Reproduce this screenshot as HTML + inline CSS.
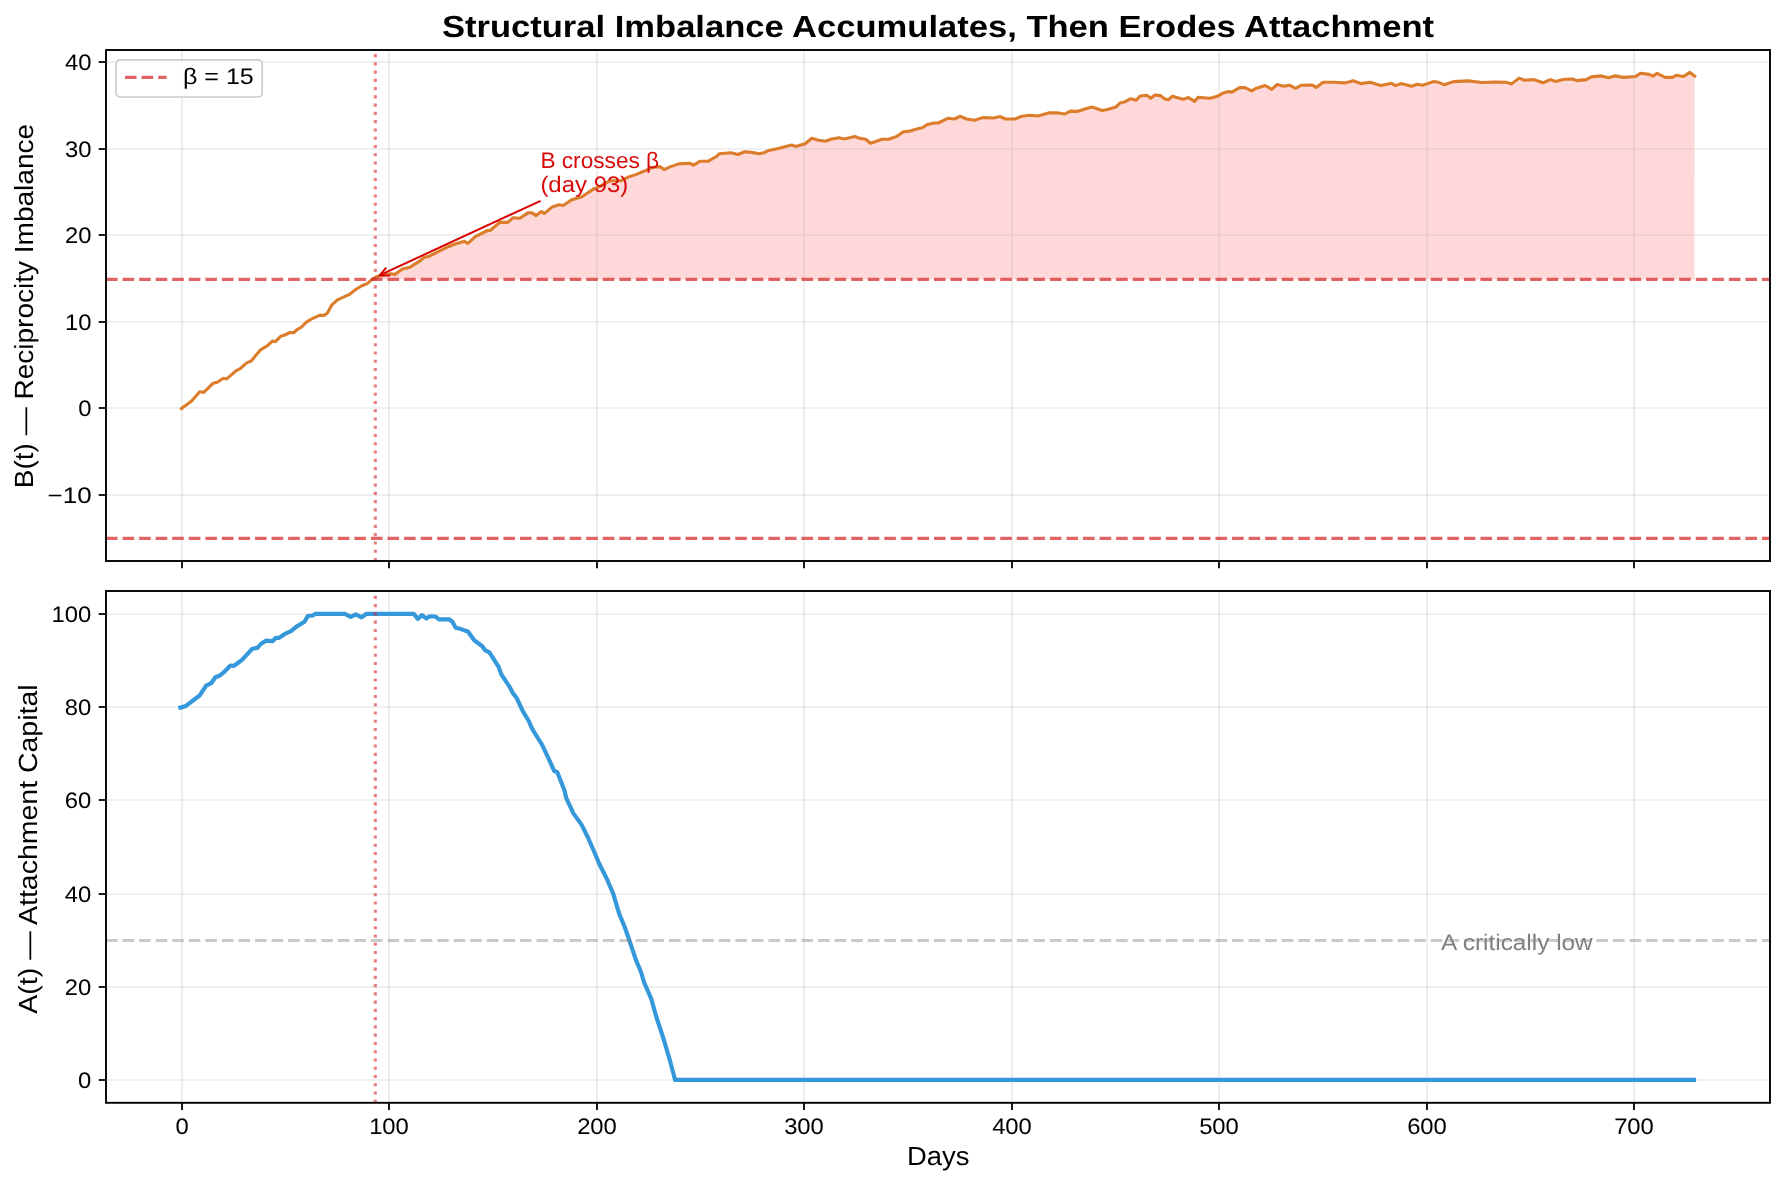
<!DOCTYPE html><html><head><meta charset="utf-8"><style>html,body{margin:0;padding:0;background:#fff;overflow:hidden}svg{display:block;will-change:transform}text{font-family:"Liberation Sans",sans-serif;text-rendering:geometricPrecision}</style></head><body>
<svg width="1785" height="1185" viewBox="0 0 1785 1185">
<rect width="1785" height="1185" fill="#fff"/>
<defs><clipPath id="c1"><rect x="106" y="50" width="1664" height="511"/></clipPath><clipPath id="c2"><rect x="106" y="591" width="1664" height="511.8"/></clipPath></defs>
<g clip-path="url(#c1)">
<polygon points="374.6,279.4 378.0,276.2 390.3,273.7 395.0,274.4 402.4,269.0 409.2,267.6 420.0,260.9 424.0,257.5 429.4,256.2 440.2,250.7 448.3,246.7 455.1,244.0 464.5,241.3 467.9,243.3 475.3,236.6 487.5,230.5 490.2,230.5 499.7,222.4 507.8,222.4 513.2,217.7 519.9,218.3 528.0,212.9 532.1,212.9 536.1,215.6 541.5,211.6 544.2,213.6 552.3,206.9 559.1,204.8 563.1,205.5 571.2,200.1 582.0,196.7 586.1,194.0 594.2,188.6 599.6,186.6 610.2,180.7 620.9,180.7 627.6,177.3 635.7,174.6 643.8,171.3 653.2,167.2 659.9,166.6 664.0,169.6 670.7,166.6 678.7,163.9 689.5,163.2 693.5,165.2 700.3,161.2 708.3,161.2 716.4,156.5 719.1,153.8 731.2,152.7 737.9,154.5 744.6,151.8 751.3,152.4 759.4,153.8 764.8,152.4 768.8,150.4 778.2,148.4 791.7,145.0 795.7,146.4 805.1,143.7 811.8,138.3 818.6,140.3 825.4,141.2 830.8,139.2 838.8,137.8 844.2,138.9 855.0,136.5 859.0,138.1 865.7,139.2 870.4,143.2 876.5,141.2 881.8,139.2 888.6,139.2 896.6,136.5 903.4,131.8 910.1,131.1 916.8,129.1 922.2,127.7 927.6,124.4 934.3,123.0 938.3,123.0 947.7,118.3 954.5,119.0 959.8,116.3 966.6,119.0 974.6,120.3 982.7,117.6 993.4,118.0 1000.2,116.6 1005.5,119.0 1015.0,119.0 1021.7,116.3 1029.8,115.2 1037.8,116.0 1048.6,112.9 1056.7,112.7 1064.8,114.0 1070.2,111.1 1076.9,111.4 1085.0,109.1 1091.7,107.1 1102.4,110.4 1109.2,109.1 1115.9,107.1 1119.9,103.0 1125.3,101.7 1130.7,98.7 1136.1,100.3 1140.1,96.0 1146.8,95.2 1150.8,98.3 1154.9,95.0 1160.3,95.6 1164.3,98.7 1168.3,99.7 1172.4,96.3 1183.1,99.3 1188.5,97.6 1194.5,101.4 1197.9,97.4 1210.0,98.3 1216.7,96.6 1223.4,92.9 1228.8,91.6 1231.5,92.3 1239.6,87.6 1245.0,87.6 1251.7,90.9 1255.7,88.5 1265.1,85.5 1271.8,89.3 1277.2,84.5 1284.0,86.2 1289.4,85.2 1295.5,88.3 1301.5,85.2 1312.3,85.0 1316.3,87.4 1323.0,82.3 1333.8,82.3 1344.5,82.9 1348.6,82.0 1353.3,80.7 1360.7,83.6 1370.1,82.3 1380.8,85.6 1391.6,83.3 1395.6,85.6 1401.0,83.6 1411.8,86.3 1417.1,84.3 1422.5,85.2 1433.3,81.6 1438.7,82.3 1444.0,84.7 1453.4,81.6 1468.2,80.9 1481.7,82.5 1495.1,82.0 1506.2,82.3 1511.7,83.9 1519.1,78.1 1524.6,80.2 1533.3,79.6 1543.1,82.7 1550.5,79.6 1555.5,81.4 1564.1,79.3 1572.7,79.0 1576.4,80.6 1586.3,79.6 1591.2,76.9 1601.1,75.9 1608.5,77.7 1614.6,75.9 1623.2,77.4 1635.6,76.5 1640.5,73.2 1649.1,74.4 1652.8,76.1 1657.1,73.4 1665.1,77.4 1672.5,77.4 1676.2,75.3 1683.6,76.5 1689.8,72.4 1694.7,76.1 1694.4,279.4" fill="#ff0000" fill-opacity="0.15"/>
<line x1="182.00" y1="50" x2="182.00" y2="561" stroke="#b0b0b0" stroke-opacity="0.27" stroke-width="1.67"/>
<line x1="389.00" y1="50" x2="389.00" y2="561" stroke="#b0b0b0" stroke-opacity="0.27" stroke-width="1.67"/>
<line x1="597.00" y1="50" x2="597.00" y2="561" stroke="#b0b0b0" stroke-opacity="0.27" stroke-width="1.67"/>
<line x1="804.00" y1="50" x2="804.00" y2="561" stroke="#b0b0b0" stroke-opacity="0.27" stroke-width="1.67"/>
<line x1="1012.00" y1="50" x2="1012.00" y2="561" stroke="#b0b0b0" stroke-opacity="0.27" stroke-width="1.67"/>
<line x1="1219.00" y1="50" x2="1219.00" y2="561" stroke="#b0b0b0" stroke-opacity="0.27" stroke-width="1.67"/>
<line x1="1427.00" y1="50" x2="1427.00" y2="561" stroke="#b0b0b0" stroke-opacity="0.27" stroke-width="1.67"/>
<line x1="1634.00" y1="50" x2="1634.00" y2="561" stroke="#b0b0b0" stroke-opacity="0.27" stroke-width="1.67"/>
<line x1="106" y1="495.00" x2="1770" y2="495.00" stroke="#b0b0b0" stroke-opacity="0.27" stroke-width="1.67"/>
<line x1="106" y1="408.00" x2="1770" y2="408.00" stroke="#b0b0b0" stroke-opacity="0.27" stroke-width="1.67"/>
<line x1="106" y1="322.00" x2="1770" y2="322.00" stroke="#b0b0b0" stroke-opacity="0.27" stroke-width="1.67"/>
<line x1="106" y1="235.00" x2="1770" y2="235.00" stroke="#b0b0b0" stroke-opacity="0.27" stroke-width="1.67"/>
<line x1="106" y1="149.00" x2="1770" y2="149.00" stroke="#b0b0b0" stroke-opacity="0.27" stroke-width="1.67"/>
<line x1="106" y1="62.00" x2="1770" y2="62.00" stroke="#b0b0b0" stroke-opacity="0.27" stroke-width="1.67"/>
<polyline points="181.5,408.6 191.6,401.1 199.7,391.7 203.8,392.4 213.2,383.2 217.3,382.2 223.3,378.2 226.7,378.9 236.2,370.7 240.2,368.7 247.0,362.6 251.0,361.3 260.5,349.8 267.2,345.8 272.6,341.0 275.3,341.7 280.7,336.3 284.8,335.0 290.2,332.3 293.6,332.9 297.0,329.6 301.0,327.5 306.4,322.1 311.8,318.8 319.9,315.1 324.0,315.4 327.3,313.3 332.1,304.6 337.5,299.8 345.6,296.2 349.6,294.4 355.0,290.0 361.8,285.7 367.2,283.6 372.6,278.9 378.0,276.2 390.3,273.7 395.0,274.4 402.4,269.0 409.2,267.6 420.0,260.9 424.0,257.5 429.4,256.2 440.2,250.7 448.3,246.7 455.1,244.0 464.5,241.3 467.9,243.3 475.3,236.6 487.5,230.5 490.2,230.5 499.7,222.4 507.8,222.4 513.2,217.7 519.9,218.3 528.0,212.9 532.1,212.9 536.1,215.6 541.5,211.6 544.2,213.6 552.3,206.9 559.1,204.8 563.1,205.5 571.2,200.1 582.0,196.7 586.1,194.0 594.2,188.6 599.6,186.6 610.2,180.7 620.9,180.7 627.6,177.3 635.7,174.6 643.8,171.3 653.2,167.2 659.9,166.6 664.0,169.6 670.7,166.6 678.7,163.9 689.5,163.2 693.5,165.2 700.3,161.2 708.3,161.2 716.4,156.5 719.1,153.8 731.2,152.7 737.9,154.5 744.6,151.8 751.3,152.4 759.4,153.8 764.8,152.4 768.8,150.4 778.2,148.4 791.7,145.0 795.7,146.4 805.1,143.7 811.8,138.3 818.6,140.3 825.4,141.2 830.8,139.2 838.8,137.8 844.2,138.9 855.0,136.5 859.0,138.1 865.7,139.2 870.4,143.2 876.5,141.2 881.8,139.2 888.6,139.2 896.6,136.5 903.4,131.8 910.1,131.1 916.8,129.1 922.2,127.7 927.6,124.4 934.3,123.0 938.3,123.0 947.7,118.3 954.5,119.0 959.8,116.3 966.6,119.0 974.6,120.3 982.7,117.6 993.4,118.0 1000.2,116.6 1005.5,119.0 1015.0,119.0 1021.7,116.3 1029.8,115.2 1037.8,116.0 1048.6,112.9 1056.7,112.7 1064.8,114.0 1070.2,111.1 1076.9,111.4 1085.0,109.1 1091.7,107.1 1102.4,110.4 1109.2,109.1 1115.9,107.1 1119.9,103.0 1125.3,101.7 1130.7,98.7 1136.1,100.3 1140.1,96.0 1146.8,95.2 1150.8,98.3 1154.9,95.0 1160.3,95.6 1164.3,98.7 1168.3,99.7 1172.4,96.3 1183.1,99.3 1188.5,97.6 1194.5,101.4 1197.9,97.4 1210.0,98.3 1216.7,96.6 1223.4,92.9 1228.8,91.6 1231.5,92.3 1239.6,87.6 1245.0,87.6 1251.7,90.9 1255.7,88.5 1265.1,85.5 1271.8,89.3 1277.2,84.5 1284.0,86.2 1289.4,85.2 1295.5,88.3 1301.5,85.2 1312.3,85.0 1316.3,87.4 1323.0,82.3 1333.8,82.3 1344.5,82.9 1348.6,82.0 1353.3,80.7 1360.7,83.6 1370.1,82.3 1380.8,85.6 1391.6,83.3 1395.6,85.6 1401.0,83.6 1411.8,86.3 1417.1,84.3 1422.5,85.2 1433.3,81.6 1438.7,82.3 1444.0,84.7 1453.4,81.6 1468.2,80.9 1481.7,82.5 1495.1,82.0 1506.2,82.3 1511.7,83.9 1519.1,78.1 1524.6,80.2 1533.3,79.6 1543.1,82.7 1550.5,79.6 1555.5,81.4 1564.1,79.3 1572.7,79.0 1576.4,80.6 1586.3,79.6 1591.2,76.9 1601.1,75.9 1608.5,77.7 1614.6,75.9 1623.2,77.4 1635.6,76.5 1640.5,73.2 1649.1,74.4 1652.8,76.1 1657.1,73.4 1665.1,77.4 1672.5,77.4 1676.2,75.3 1683.6,76.5 1689.8,72.4 1694.7,76.1" fill="none" stroke="#dc7d2c" stroke-width="3.1" stroke-linejoin="round" stroke-linecap="square"/>
<line x1="106" y1="279.4" x2="1770" y2="279.4" stroke="#d62728" stroke-opacity="0.72" stroke-width="3.1" stroke-dasharray="11.56 5.0"/>
<line x1="106" y1="538.4" x2="1770" y2="538.4" stroke="#d62728" stroke-opacity="0.72" stroke-width="3.1" stroke-dasharray="11.56 5.0"/>
<line x1="375.3" y1="561" x2="375.3" y2="50" stroke="#d62728" stroke-opacity="0.6" stroke-width="3.1" stroke-dasharray="3.1 5.16"/>
</g>
<g stroke="#dc0000" stroke-width="2.0" fill="none" stroke-linecap="butt">
<line x1="540.6" y1="200.8" x2="379.8" y2="275.2"/>
<polyline points="386.3,267.7 379.8,275.2 390.1,275.4"/>
</g>
<text x="540.4" y="167.6" fill="#d80a0a" font-size="22.5" textLength="118.75" lengthAdjust="spacingAndGlyphs">B crosses β</text>
<text x="540.4" y="191.8" fill="#d80a0a" font-size="22.5" textLength="87.88" lengthAdjust="spacingAndGlyphs">(day 93)</text>
<rect x="116" y="59.8" width="146.2" height="37.2" rx="4.2" ry="4.2" fill="#ffffff" fill-opacity="0.8" stroke="#cccccc" stroke-width="1.67"/>
<line x1="125" y1="77.4" x2="166.6" y2="77.4" stroke="#d62728" stroke-opacity="0.72" stroke-width="3.1" stroke-dasharray="11.56 5.0"/>
<text x="183.0" y="83.8" fill="#000" font-size="22.5" textLength="70.75" lengthAdjust="spacingAndGlyphs">β = 15</text>
<rect x="106" y="50" width="1664" height="511" fill="none" stroke="#000" stroke-width="1.9"/>
<line x1="182.00" y1="561" x2="182.00" y2="568.3" stroke="#000" stroke-width="1.8"/>
<line x1="389.00" y1="561" x2="389.00" y2="568.3" stroke="#000" stroke-width="1.8"/>
<line x1="597.00" y1="561" x2="597.00" y2="568.3" stroke="#000" stroke-width="1.8"/>
<line x1="804.00" y1="561" x2="804.00" y2="568.3" stroke="#000" stroke-width="1.8"/>
<line x1="1012.00" y1="561" x2="1012.00" y2="568.3" stroke="#000" stroke-width="1.8"/>
<line x1="1219.00" y1="561" x2="1219.00" y2="568.3" stroke="#000" stroke-width="1.8"/>
<line x1="1427.00" y1="561" x2="1427.00" y2="568.3" stroke="#000" stroke-width="1.8"/>
<line x1="1634.00" y1="561" x2="1634.00" y2="568.3" stroke="#000" stroke-width="1.8"/>
<line x1="98.7" y1="495.00" x2="106" y2="495.00" stroke="#000" stroke-width="1.8"/>
<text x="91.6" y="502.80" text-anchor="end" font-size="22.5" textLength="44.0" lengthAdjust="spacingAndGlyphs">−10</text>
<line x1="98.7" y1="408.00" x2="106" y2="408.00" stroke="#000" stroke-width="1.8"/>
<text x="91.6" y="415.80" text-anchor="end" font-size="22.5" textLength="13.25" lengthAdjust="spacingAndGlyphs">0</text>
<line x1="98.7" y1="322.00" x2="106" y2="322.00" stroke="#000" stroke-width="1.8"/>
<text x="91.6" y="329.80" text-anchor="end" font-size="22.5" textLength="26.5" lengthAdjust="spacingAndGlyphs">10</text>
<line x1="98.7" y1="235.00" x2="106" y2="235.00" stroke="#000" stroke-width="1.8"/>
<text x="91.6" y="242.80" text-anchor="end" font-size="22.5" textLength="26.5" lengthAdjust="spacingAndGlyphs">20</text>
<line x1="98.7" y1="149.00" x2="106" y2="149.00" stroke="#000" stroke-width="1.8"/>
<text x="91.6" y="156.80" text-anchor="end" font-size="22.5" textLength="26.5" lengthAdjust="spacingAndGlyphs">30</text>
<line x1="98.7" y1="62.00" x2="106" y2="62.00" stroke="#000" stroke-width="1.8"/>
<text x="91.6" y="69.80" text-anchor="end" font-size="22.5" textLength="26.5" lengthAdjust="spacingAndGlyphs">40</text>
<g clip-path="url(#c2)">
<line x1="182.00" y1="591" x2="182.00" y2="1102.8" stroke="#b0b0b0" stroke-opacity="0.27" stroke-width="1.67"/>
<line x1="389.00" y1="591" x2="389.00" y2="1102.8" stroke="#b0b0b0" stroke-opacity="0.27" stroke-width="1.67"/>
<line x1="597.00" y1="591" x2="597.00" y2="1102.8" stroke="#b0b0b0" stroke-opacity="0.27" stroke-width="1.67"/>
<line x1="804.00" y1="591" x2="804.00" y2="1102.8" stroke="#b0b0b0" stroke-opacity="0.27" stroke-width="1.67"/>
<line x1="1012.00" y1="591" x2="1012.00" y2="1102.8" stroke="#b0b0b0" stroke-opacity="0.27" stroke-width="1.67"/>
<line x1="1219.00" y1="591" x2="1219.00" y2="1102.8" stroke="#b0b0b0" stroke-opacity="0.27" stroke-width="1.67"/>
<line x1="1427.00" y1="591" x2="1427.00" y2="1102.8" stroke="#b0b0b0" stroke-opacity="0.27" stroke-width="1.67"/>
<line x1="1634.00" y1="591" x2="1634.00" y2="1102.8" stroke="#b0b0b0" stroke-opacity="0.27" stroke-width="1.67"/>
<line x1="106" y1="1080.00" x2="1770" y2="1080.00" stroke="#b0b0b0" stroke-opacity="0.27" stroke-width="1.67"/>
<line x1="106" y1="987.00" x2="1770" y2="987.00" stroke="#b0b0b0" stroke-opacity="0.27" stroke-width="1.67"/>
<line x1="106" y1="894.00" x2="1770" y2="894.00" stroke="#b0b0b0" stroke-opacity="0.27" stroke-width="1.67"/>
<line x1="106" y1="800.00" x2="1770" y2="800.00" stroke="#b0b0b0" stroke-opacity="0.27" stroke-width="1.67"/>
<line x1="106" y1="707.00" x2="1770" y2="707.00" stroke="#b0b0b0" stroke-opacity="0.27" stroke-width="1.67"/>
<line x1="106" y1="614.00" x2="1770" y2="614.00" stroke="#b0b0b0" stroke-opacity="0.27" stroke-width="1.67"/>
<polyline points="180.4,707.6 186.0,705.9 196.9,697.5 199.4,695.8 206.1,685.7 211.2,683.2 215.4,677.3 219.6,675.6 223.8,672.3 230.5,665.5 233.9,665.9 237.2,663.5 242.3,659.7 252.4,648.7 257.4,647.9 260.8,644.0 265.8,640.7 272.5,641.2 275.9,637.8 279.2,637.8 286.0,633.3 291.0,631.1 296.1,626.9 304.5,621.8 307.8,616.0 312.9,615.5 315.4,613.8 338.1,613.8 344.8,613.8 350.7,616.8 355.7,614.3 361.6,617.3 366.6,613.8 413.7,613.8 417.9,618.8 422.1,615.1 426.3,618.5 429.7,616.3 435.5,616.5 438.9,619.3 449.0,619.3 452.4,621.8 455.7,627.7 461.0,629.1 468.1,631.7 474.2,640.3 482.3,646.3 485.3,650.4 489.4,652.4 498.5,666.6 501.5,674.7 509.6,686.8 512.7,692.9 516.7,698.0 522.8,711.1 528.9,721.3 531.9,728.4 540.0,741.5 542.0,744.6 549.1,759.7 554.2,770.9 557.2,771.9 564.3,790.1 566.3,798.2 573.4,813.4 581.5,824.6 587.6,836.7 593.4,850.0 599.6,864.5 606.9,879.0 613.1,893.4 619.3,914.1 624.5,926.5 629.6,941.0 635.8,959.6 641.0,972.0 644.1,982.3 651.3,998.9 656.5,1017.5 662.7,1036.1 668.9,1056.8 675.1,1079.9 1694.0,1079.9" fill="none" stroke="#3498db" stroke-width="4.17" stroke-linejoin="round" stroke-linecap="square"/>
<line x1="106" y1="940.5" x2="1770" y2="940.5" stroke="#808080" stroke-opacity="0.42" stroke-width="3.1" stroke-dasharray="11.56 5.0"/>
<line x1="375.3" y1="1102.8" x2="375.3" y2="591" stroke="#d62728" stroke-opacity="0.6" stroke-width="3.1" stroke-dasharray="3.1 5.16"/>
</g>
<text x="1441.1" y="949.8" fill="#808080" font-size="22.5" textLength="151.62" lengthAdjust="spacingAndGlyphs">A critically low</text>
<rect x="106" y="591" width="1664" height="511.8" fill="none" stroke="#000" stroke-width="1.9"/>
<line x1="182.00" y1="1102.8" x2="182.00" y2="1110.1" stroke="#000" stroke-width="1.8"/>
<text x="182.00" y="1133.8" text-anchor="middle" font-size="22.5" textLength="13.25" lengthAdjust="spacingAndGlyphs">0</text>
<line x1="389.00" y1="1102.8" x2="389.00" y2="1110.1" stroke="#000" stroke-width="1.8"/>
<text x="389.00" y="1133.8" text-anchor="middle" font-size="22.5" textLength="39.75" lengthAdjust="spacingAndGlyphs">100</text>
<line x1="597.00" y1="1102.8" x2="597.00" y2="1110.1" stroke="#000" stroke-width="1.8"/>
<text x="597.00" y="1133.8" text-anchor="middle" font-size="22.5" textLength="39.75" lengthAdjust="spacingAndGlyphs">200</text>
<line x1="804.00" y1="1102.8" x2="804.00" y2="1110.1" stroke="#000" stroke-width="1.8"/>
<text x="804.00" y="1133.8" text-anchor="middle" font-size="22.5" textLength="39.75" lengthAdjust="spacingAndGlyphs">300</text>
<line x1="1012.00" y1="1102.8" x2="1012.00" y2="1110.1" stroke="#000" stroke-width="1.8"/>
<text x="1012.00" y="1133.8" text-anchor="middle" font-size="22.5" textLength="39.75" lengthAdjust="spacingAndGlyphs">400</text>
<line x1="1219.00" y1="1102.8" x2="1219.00" y2="1110.1" stroke="#000" stroke-width="1.8"/>
<text x="1219.00" y="1133.8" text-anchor="middle" font-size="22.5" textLength="39.75" lengthAdjust="spacingAndGlyphs">500</text>
<line x1="1427.00" y1="1102.8" x2="1427.00" y2="1110.1" stroke="#000" stroke-width="1.8"/>
<text x="1427.00" y="1133.8" text-anchor="middle" font-size="22.5" textLength="39.75" lengthAdjust="spacingAndGlyphs">600</text>
<line x1="1634.00" y1="1102.8" x2="1634.00" y2="1110.1" stroke="#000" stroke-width="1.8"/>
<text x="1634.00" y="1133.8" text-anchor="middle" font-size="22.5" textLength="39.75" lengthAdjust="spacingAndGlyphs">700</text>
<line x1="98.7" y1="1080.00" x2="106" y2="1080.00" stroke="#000" stroke-width="1.8"/>
<text x="91.3" y="1087.80" text-anchor="end" font-size="22.5" textLength="13.25" lengthAdjust="spacingAndGlyphs">0</text>
<line x1="98.7" y1="987.00" x2="106" y2="987.00" stroke="#000" stroke-width="1.8"/>
<text x="91.3" y="994.80" text-anchor="end" font-size="22.5" textLength="26.5" lengthAdjust="spacingAndGlyphs">20</text>
<line x1="98.7" y1="894.00" x2="106" y2="894.00" stroke="#000" stroke-width="1.8"/>
<text x="91.3" y="901.80" text-anchor="end" font-size="22.5" textLength="26.5" lengthAdjust="spacingAndGlyphs">40</text>
<line x1="98.7" y1="800.00" x2="106" y2="800.00" stroke="#000" stroke-width="1.8"/>
<text x="91.3" y="807.80" text-anchor="end" font-size="22.5" textLength="26.5" lengthAdjust="spacingAndGlyphs">60</text>
<line x1="98.7" y1="707.00" x2="106" y2="707.00" stroke="#000" stroke-width="1.8"/>
<text x="91.3" y="714.80" text-anchor="end" font-size="22.5" textLength="26.5" lengthAdjust="spacingAndGlyphs">80</text>
<line x1="98.7" y1="614.00" x2="106" y2="614.00" stroke="#000" stroke-width="1.8"/>
<text x="91.3" y="621.80" text-anchor="end" font-size="22.5" textLength="39.75" lengthAdjust="spacingAndGlyphs">100</text>
<text transform="translate(32.8,306.1) rotate(-90)" text-anchor="middle" font-size="26.3" textLength="364.38" lengthAdjust="spacingAndGlyphs">B(t) — Reciprocity Imbalance</text>
<text transform="translate(37.0,849.0) rotate(-90)" text-anchor="middle" font-size="26.3" textLength="329.25" lengthAdjust="spacingAndGlyphs">A(t) — Attachment Capital</text>
<text x="938.3" y="1164.7" text-anchor="middle" font-size="26.3" textLength="62.5" lengthAdjust="spacingAndGlyphs">Days</text>
<text x="938.0" y="37.3" text-anchor="middle" font-size="30.6" font-weight="bold" textLength="992.25" lengthAdjust="spacingAndGlyphs">Structural Imbalance Accumulates, Then Erodes Attachment</text>
</svg></body></html>
